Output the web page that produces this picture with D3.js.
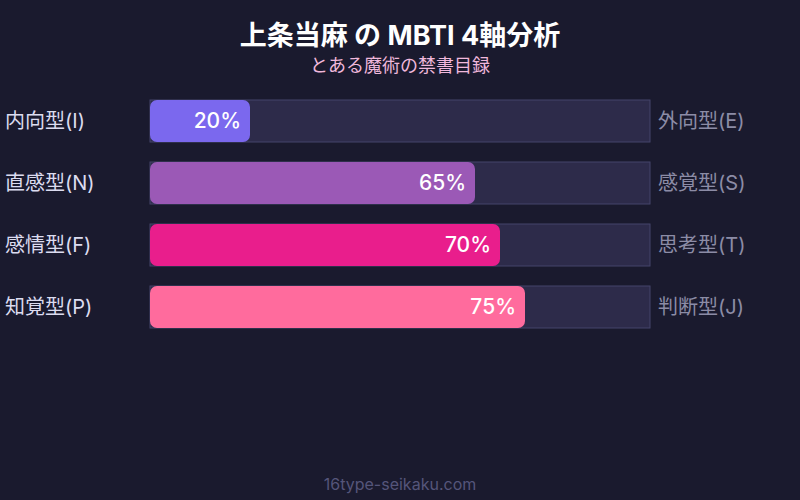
<!DOCTYPE html>
<html>
<head>
<meta charset="utf-8">
<script src="https://cdn.jsdelivr.net/npm/d3@7"></script>
<style>
  body { margin: 0; background: #1a1a2e; }
  svg { display: block; font-family: "Inter", "Noto Sans CJK JP", sans-serif; }
</style>
</head>
<body>
<div id="chart"></div>
<script>
const leftLabels = ["内向型(I)", "直感型(N)", "感情型(F)", "知覚型(P)"];
const rightLabels = ["外向型(E)", "感覚型(S)", "思考型(T)", "判断型(J)"];
const values = [20, 65, 70, 75];
const barColors = ["#7b68ee", "#9b59b6", "#e91e8c", "#ff6b9d"];

const width = 800;
const height = 500;

const svg = d3.select("#chart")
  .append("svg")
  .attr("width", width)
  .attr("height", height);

svg.append("rect")
  .attr("width", width)
  .attr("height", height)
  .attr("fill", "#1a1a2e");

// タイトル
svg.append("text")
  .attr("x", width / 2)
  .attr("y", 45)
  .attr("text-anchor", "middle")
  .attr("font-size", "27px")
  .attr("font-weight", "bold")
  .attr("fill", "#ffffff")
  .text("上条当麻 の MBTI 4軸分析");

svg.append("text")
  .attr("x", width / 2)
  .attr("y", 72)
  .attr("text-anchor", "middle")
  .attr("font-size", "18px")
  .attr("fill", "#f0b8dc")
  .text("とある魔術の禁書目録");

const x = d3.scaleLinear().domain([0, 100]).range([150, 650]);
const y = d3.scaleBand()
  .domain(d3.range(values.length))
  .range([100, 100 + 62 * values.length - 20])
  .paddingInner(20 / 62)
  .paddingOuter(0);

const rows = svg.selectAll(".row")
  .data(values)
  .enter()
  .append("g")
  .attr("class", "row");

// トラック
rows.append("rect")
  .attr("x", x(0))
  .attr("y", (d, i) => y(i))
  .attr("width", x(100) - x(0))
  .attr("height", y.bandwidth())
  .attr("fill", "#2d2b4a")
  .attr("stroke", "#44446a")
  .attr("stroke-width", 1);

// バー
rows.append("rect")
  .attr("x", x(0))
  .attr("y", (d, i) => y(i))
  .attr("width", d => x(d) - x(0))
  .attr("height", y.bandwidth())
  .attr("rx", 7)
  .attr("fill", (d, i) => barColors[i]);

rows.append("text")
  .attr("x", d => x(d) - 9)
  .attr("y", (d, i) => y(i) + y.bandwidth() / 2 + 7)
  .attr("text-anchor", "end")
  .attr("font-size", "21px")
  .attr("font-weight", 500)
  .attr("fill", "#ffffff")
  .text(d => d + "%");

rows.append("text")
  .attr("x", 5)
  .attr("y", (d, i) => y(i) + y.bandwidth() / 2 + 7)
  .attr("font-size", "20px")
  .attr("fill", "#dcdcf0")
  .text((d, i) => leftLabels[i]);

rows.append("text")
  .attr("x", 658)
  .attr("y", (d, i) => y(i) + y.bandwidth() / 2 + 7)
  .attr("font-size", "20px")
  .attr("fill", "#8c8ca6")
  .text((d, i) => rightLabels[i]);

svg.append("text")
  .attr("x", width / 2)
  .attr("y", 490)
  .attr("text-anchor", "middle")
  .attr("font-size", "16px")
  .attr("fill", "#55557a")
  .text("16type-seikaku.com");
</script>
</body>
</html>
